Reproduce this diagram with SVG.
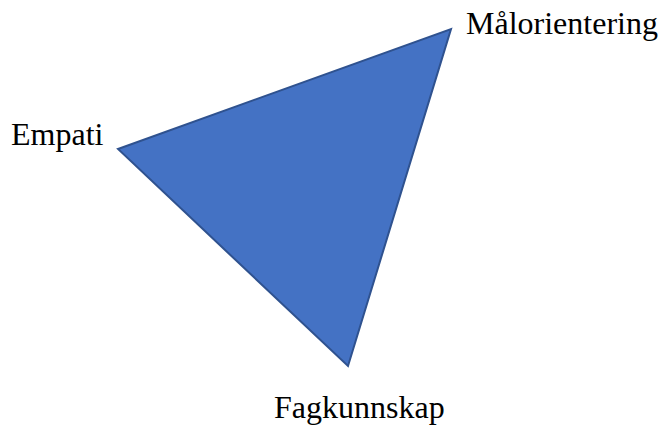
<svg xmlns="http://www.w3.org/2000/svg" width="662" height="428" viewBox="0 0 662 428">
<style>
text{font-family:"Liberation Serif","Times New Roman",serif;font-size:32px;fill:#000}
.tri{fill:#4472C4;stroke:#2F528F;stroke-width:2;stroke-linejoin:miter}
</style>
<rect width="662" height="428" fill="#fff"/>
<g id="triangle"><polygon class="tri" points="118,149 451,29 348,366"/></g>
<g id="maalorientering"><text x="466" y="34">Målorientering</text></g>
<g id="empati"><text x="11" y="145">Empati</text></g>
<g id="fagkunnskap"><text x="274" y="418">Fagkunnskap</text></g>
<g id="connectors"></g>
</svg>
